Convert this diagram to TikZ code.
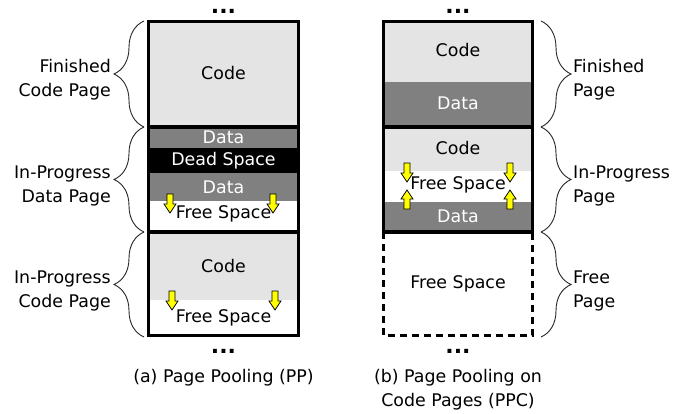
\documentclass[tikz,border=0pt]{standalone}
\usepackage{fontspec}
\setmainfont{DejaVu Sans}
\usetikzlibrary{decorations.pathreplacing}
\definecolor{codegrey}{HTML}{E4E4E4}
\definecolor{datagrey}{HTML}{808080}
\definecolor{growyellow}{HTML}{FFFF00}
\begin{document}
\begin{tikzpicture}[x=1pt,y=-1pt,font=\fontsize{17.4}{24}\selectfont,
  page/.style={draw=black,line width=3.5pt},
  freepage/.style={draw=black,line width=3.5pt,dash pattern=on 7pt off 5pt},
  lbl/.style={inner sep=0pt},
  light/.style={lbl,text=white},
  sidelbl/.style={inner sep=0pt},
  bracket/.style={decorate,decoration={brace,amplitude=30pt},line width=0.9pt,draw=black!85},
  dots/.style={inner sep=0pt,anchor=base,font=\fontsize{22}{24}\selectfont\bfseries},
  growarrow/.style={fill=growyellow,draw=black,line width=0.8pt,line join=miter},
  downarr/.pic={\path[growarrow] (-3,0) -- (3,0) -- (3,10) -- (6,10) -- (0,19) -- (-6,10) -- (-3,10) -- cycle;},
  uparr/.pic={\path[growarrow] (-3,0) -- (3,0) -- (3,-10) -- (6,-10) -- (0,-19) -- (-6,-10) -- (-3,-10) -- cycle;}
]
\useasboundingbox (0,0) rectangle (685,413);

% ---------- (a) page pooling ----------
\fill[codegrey] (148.5,21.5) rectangle (298.5,127);
\fill[datagrey] (148.5,127) rectangle (298.5,148);
\fill[black]    (148.5,148) rectangle (298.5,173);
\fill[datagrey] (148.5,173) rectangle (298.5,201);
\fill[white]    (148.5,201) rectangle (298.5,232);
\fill[codegrey] (148.5,232) rectangle (298.5,300);
\fill[white]    (148.5,300) rectangle (298.5,335.5);
\draw[page] (148.5,21.5) rectangle (298.5,127);
\draw[page] (148.5,127) rectangle (298.5,232);
\draw[page] (148.5,232) rectangle (298.5,335.5);

\pic at (170,194) {downarr};
\pic at (273,194) {downarr};
\pic at (172,291) {downarr};
\pic at (275,291) {downarr};

\node[lbl]   (acode1) at (223.5,73)  {Code};
\node[light] (adata1) at (223.5,137.5) {Data};
\node[light] (adead)  at (223.5,160.5) {Dead Space};
\node[light] (adata2) at (223.5,187) {Data};
\node[lbl]   (afree1) at (223.5,214) {Free Space};
\node[lbl]   (acode2) at (223.5,266) {Code};
\node[lbl]   (afree2) at (223.5,318) {Free Space};

\node[dots] (atopdots) at (223.5,13) {...};
\node[dots] (abotdots) at (223.5,353) {...};
\node[lbl]  (acap) at (223.5,378) {(a) Page Pooling (PP)};

\coordinate (ab0) at (144,21);
\coordinate (ab1) at (144,127);
\coordinate (ab2) at (144,232);
\coordinate (ab3) at (144,337);
\draw[bracket] (ab1) -- (ab0);
\draw[bracket] (ab2) -- (ab1);
\draw[bracket] (ab3) -- (ab2);
\node[sidelbl,anchor=east,align=right] (afin)  at (111,80)  {Finished\\Code Page};
\node[sidelbl,anchor=east,align=right] (aprog) at (111,186) {In-Progress\\Data Page};
\node[sidelbl,anchor=east,align=right] (acpg)  at (111,291) {In-Progress\\Code Page};

% ---------- (b) page pooling on code pages ----------
\fill[codegrey] (383.5,21.5) rectangle (532.5,82);
\fill[datagrey] (383.5,82) rectangle (532.5,127);
\fill[codegrey] (383.5,127) rectangle (532.5,171);
\fill[white]    (383.5,171) rectangle (532.5,202);
\fill[datagrey] (383.5,202) rectangle (532.5,232);
\draw[freepage] (383.5,232) rectangle (532.5,335.5);
\draw[page] (383.5,21.5) rectangle (532.5,127);
\draw[page] (383.5,127) rectangle (532.5,232);

\pic at (407,163) {downarr};
\pic at (510,163) {downarr};
\pic at (407,209) {uparr};
\pic at (510,209) {uparr};

\node[lbl]   (bcode1) at (458,50)  {Code};
\node[light] (bdata1) at (458,103) {Data};
\node[lbl]   (bcode2) at (458,148) {Code};
\node[lbl]   (bfree1) at (458,185) {Free Space};
\node[light] (bdata2) at (458,216) {Data};
\node[lbl]   (bfree2) at (458,284) {Free Space};

\node[dots] (btopdots) at (458,13) {...};
\node[dots] (bbotdots) at (458,353) {...};
\node[lbl,align=center] (bcap) at (458,390) {(b) Page Pooling on\\Code Pages (PPC)};

\coordinate (bb0) at (541,21);
\coordinate (bb1) at (541,127);
\coordinate (bb2) at (541,232);
\coordinate (bb3) at (541,337);
\draw[bracket] (bb0) -- (bb1);
\draw[bracket] (bb1) -- (bb2);
\draw[bracket] (bb2) -- (bb3);
\node[sidelbl,anchor=west,align=left] (bfin)  at (573,80)  {Finished\\Page};
\node[sidelbl,anchor=west,align=left] (bprog) at (573,186) {In-Progress\\Page};
\node[sidelbl,anchor=west,align=left] (bfpg)  at (573,291) {Free\\Page};
\end{tikzpicture}
\end{document}
